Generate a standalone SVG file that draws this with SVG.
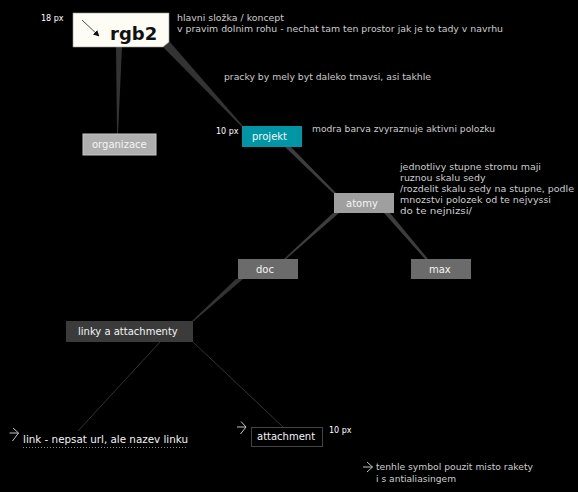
<svg xmlns="http://www.w3.org/2000/svg" width="578" height="492" viewBox="0 0 578 492">
<style>
.note{font-family:"DejaVu Sans",Verdana,sans-serif;font-size:9.3px;fill:#cdcdcd}
.lbl{font-family:"DejaVu Sans",Verdana,sans-serif;font-size:10px;fill:#f4f4f4}
.px{font-family:"DejaVu Sans",Verdana,sans-serif;font-size:8px;fill:#fff}
.wedge{fill:#333}
.wedge2{fill:#3d3d3d}
.thin{stroke:#333;stroke-width:1;fill:none}
.sym{stroke:#d8d8d8;stroke-width:0.9;fill:none}
</style>
<defs>
<marker id="ah" viewBox="0 0 10 10" refX="9" refY="5" markerWidth="6" markerHeight="6" orient="auto" markerUnits="userSpaceOnUse">
<path d="M0,0 L10,5 L0,10 z" fill="#111"/>
</marker>
</defs>
<rect x="0" y="0" width="578" height="492" fill="#000"/>

<g id="connectors">
<polygon class="wedge" points="116,47 122,47 118,134 117,134"/>
<polygon class="wedge" points="163,47 169,41 243,126 241,126"/>
<polygon class="wedge2" points="285,147 291,147 336,193 333,193"/>
<polygon class="wedge2" points="333,213 339,213 286,259 284,259"/>
<polygon class="wedge2" points="384,213 390,213 428,259 425,259"/>
<polygon class="wedge" points="236,279 243,279 194,321 192,321"/>
<line class="thin" x1="160" y1="342" x2="78" y2="431"/>
<line class="thin" x1="193" y1="342" x2="283" y2="427"/>
</g>

<g id="rgb2">
<polygon points="73,13 169,13 169,42 163,47 73,47" fill="#fdfdf6" stroke="#9a9a9a" stroke-width="0.6"/>
<line x1="82" y1="20" x2="99" y2="36" stroke="#222" stroke-width="0.8" marker-end="url(#ah)"/>
<text x="110" y="40" font-family="DejaVu Sans,Verdana,sans-serif" font-size="18" font-weight="bold" fill="#111">rgb2</text>
</g>

<g id="organizace">
<rect x="83" y="134" width="73" height="21" fill="#afafaf" stroke="#c6c6c6" stroke-width="1"/>
<text class="lbl" x="92" y="148">organizace</text>
</g>

<g id="projekt">
<rect x="242" y="126" width="60" height="21" fill="#0096a5"/>
<text class="lbl" x="252" y="140">projekt</text>
</g>

<g id="atomy">
<rect x="334" y="193" width="60" height="20" fill="#9f9f9f"/>
<text class="lbl" x="346" y="207">atomy</text>
</g>

<g id="doc">
<rect x="238" y="259" width="60" height="20" fill="#6b6b6b"/>
<text class="lbl" x="256" y="273">doc</text>
</g>

<g id="max">
<rect x="411" y="259" width="60" height="20" fill="#6b6b6b"/>
<text class="lbl" x="429" y="273">max</text>
</g>

<g id="linky">
<rect x="66" y="321" width="127" height="21" fill="#3b3b3b"/>
<text class="lbl" x="78" y="335">linky a attachmenty</text>
</g>

<g id="link">
<polyline class="sym" points="13,428 18.5,433 12.5,441"/>
<line class="sym" x1="9.5" y1="433" x2="18.5" y2="433"/>
<text class="lbl" x="23" y="443" textLength="165" lengthAdjust="spacingAndGlyphs">link - nepsat url, ale nazev linku</text>
<line x1="23" y1="447.5" x2="188" y2="447.5" stroke="#8a8a8a" stroke-width="1" stroke-dasharray="1,2"/>
</g>

<g id="attachment">
<polyline class="sym" points="241,421.5 246,427 240.5,434"/>
<line class="sym" x1="237" y1="427" x2="246" y2="427"/>
<rect x="251.5" y="427.5" width="71" height="19" fill="#000" stroke="#444" stroke-width="1"/>
<text class="lbl" x="257" y="439.5">attachment</text>
</g>

<g id="labels">
<text class="px" x="41" y="21">18 px</text>
<text class="px" x="216" y="133.5">10 px</text>
<text class="px" x="329" y="432.5">10 px</text>
</g>

<g id="notes">
<text class="note" x="177" y="21" textLength="107" lengthAdjust="spacingAndGlyphs">hlavni složka / koncept</text>
<text class="note" x="177" y="32" textLength="326" lengthAdjust="spacingAndGlyphs">v pravim dolnim rohu - nechat tam ten prostor jak je to tady v navrhu</text>
<text class="note" x="224" y="80" textLength="207" lengthAdjust="spacingAndGlyphs">pracky by mely byt daleko tmavsi, asi takhle</text>
<text class="note" x="312" y="131.5" textLength="183" lengthAdjust="spacingAndGlyphs">modra barva zvyraznuje aktivni polozku</text>
<text class="note" x="400" y="170" textLength="141" lengthAdjust="spacingAndGlyphs">jednotlivy stupne stromu maji</text>
<text class="note" x="400" y="181" textLength="85.5" lengthAdjust="spacingAndGlyphs">ruznou skalu sedy</text>
<text class="note" x="400" y="192" textLength="174" lengthAdjust="spacingAndGlyphs">/rozdelit skalu sedy na stupne, podle</text>
<text class="note" x="400" y="203" textLength="151" lengthAdjust="spacingAndGlyphs">mnozstvi polozek od te nejvyssi</text>
<text class="note" x="400" y="214" textLength="72" lengthAdjust="spacingAndGlyphs">do te nejnizsi/</text>
<polyline class="sym" points="367,462 372.5,467 367,472"/>
<line class="sym" x1="363" y1="467" x2="372.5" y2="467"/>
<text class="note" x="376" y="470" textLength="157" lengthAdjust="spacingAndGlyphs">tenhle symbol pouzit misto rakety</text>
<text class="note" x="376" y="481.5" textLength="80" lengthAdjust="spacingAndGlyphs">i s antialiasingem</text>
</g>
</svg>
